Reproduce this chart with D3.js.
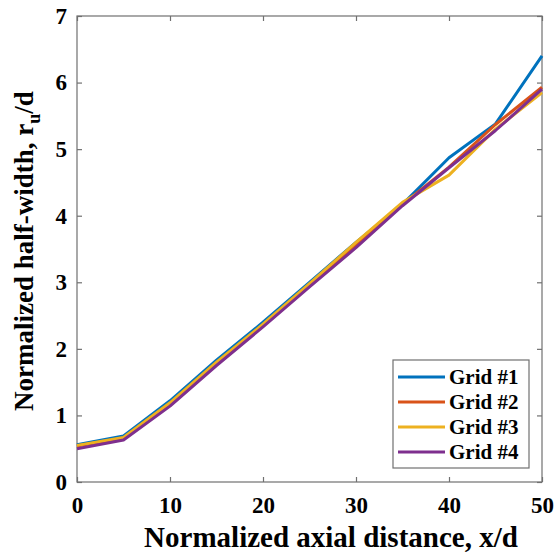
<!DOCTYPE html>
<html>
<head>
<meta charset="utf-8">
<script src="https://cdn.jsdelivr.net/npm/d3@7"></script>
<style>
  svg text, svg tspan { font-family: "Liberation Serif" !important; font-weight: bold !important; }
</style>
</head>
<body style="margin:0;background:#fff">
<svg id="chart" width="555" height="554"></svg>
<script>
// Axial positions x/d where the half-width was sampled
const xd = [0, 5, 10, 15, 20, 25, 30, 35, 40, 45, 50];

// Normalized half-width r_u/d for each mesh
const grid1 = [0.56, 0.69, 1.22, 1.83, 2.40, 3.00, 3.60, 4.17, 4.87, 5.38, 6.40];
const grid2 = [0.54, 0.66, 1.18, 1.79, 2.36, 2.96, 3.56, 4.17, 4.73, 5.37, 5.93];
const grid3 = [0.55, 0.67, 1.19, 1.80, 2.37, 2.98, 3.60, 4.20, 4.61, 5.30, 5.85];
const grid4 = [0.50, 0.63, 1.14, 1.75, 2.33, 2.93, 3.52, 4.15, 4.72, 5.28, 5.90];

const seriesNames = ["Grid #1", "Grid #2", "Grid #3", "Grid #4"];
const seriesColors = ["#0072BD", "#D95319", "#EDB120", "#7E2F8E"];
const xTicks = [0, 10, 20, 30, 40, 50];
const yTicks = [0, 1, 2, 3, 4, 5, 6, 7];

const series = [grid1, grid2, grid3, grid4].map((vals, i) => ({
  name: seriesNames[i],
  color: seriesColors[i],
  points: xd.map((x, j) => ({ x, y: vals[j] }))
}));

const svg = d3.select("#chart");
const plotL = 77, plotR = 542, plotT = 16, plotB = 482;
const axisColor = "#707070";

const x = d3.scaleLinear().domain([0, 50]).range([plotL, plotR]);
const y = d3.scaleLinear().domain([0, 7]).range([plotB, plotT]);

// Bold Times-style lettering for every label
function bold(sel, size) {
  return sel.attr("font-family", "Liberation Serif")
    .attr("font-weight", "bold")
    .style("font-family", "\"Liberation Serif\"", "important")
    .style("font-weight", "bold", "important")
    .style("font-size", size + "px")
    .attr("fill", "#000");
}

// Plot box
svg.append("rect")
  .attr("x", plotL).attr("y", plotT)
  .attr("width", plotR - plotL).attr("height", plotB - plotT)
  .attr("fill", "#fff").attr("stroke", axisColor).attr("stroke-width", 1.2);

// Inward ticks on all four sides
const tickLen = 5;
function styleAxis(g) {
  g.select(".domain").remove();
  g.attr("font-family", "Liberation Serif").attr("font-size", null);
  g.selectAll(".tick line").attr("stroke", axisColor).attr("stroke-width", 1.2);
}
const xBottom = svg.append("g").attr("transform", `translate(0,${plotB})`)
  .call(d3.axisBottom(x).tickValues(xTicks).tickSize(-tickLen).tickPadding(14).tickFormat(d3.format("d")));
styleAxis(xBottom);
bold(xBottom.selectAll(".tick text"), 23).attr("dy", "0.72em");

const xTop = svg.append("g").attr("transform", `translate(0,${plotT})`)
  .call(d3.axisTop(x).tickValues(xTicks).tickSize(-tickLen).tickFormat(""));
styleAxis(xTop);

const yLeft = svg.append("g").attr("transform", `translate(${plotL},0)`)
  .call(d3.axisLeft(y).tickValues(yTicks).tickSize(-tickLen).tickPadding(10).tickFormat(d3.format("d")));
styleAxis(yLeft);
bold(yLeft.selectAll(".tick text"), 23);

const yRight = svg.append("g").attr("transform", `translate(${plotR},0)`)
  .call(d3.axisRight(y).tickValues(yTicks).tickSize(-tickLen).tickFormat(""));
styleAxis(yRight);

// Curves
const line = d3.line().x(d => x(d.x)).y(d => y(d.y));
svg.append("g").selectAll("path")
  .data(series).join("path")
  .attr("d", d => line(d.points))
  .attr("fill", "none")
  .attr("stroke", d => d.color)
  .attr("stroke-width", 3)
  .attr("stroke-linejoin", "round");

// Axis titles
bold(svg.append("text"), 29)
  .attr("x", 331).attr("y", 547)
  .attr("text-anchor", "middle")
  .text("Normalized axial distance, x/d");

const yTitle = bold(svg.append("text"), 27)
  .attr("transform", `translate(33,251) rotate(-90)`)
  .attr("text-anchor", "middle");
yTitle.append("tspan").text("Normalized half-width, r");
yTitle.append("tspan").attr("dy", 7).style("font-size", "18px").text("u");
yTitle.append("tspan").attr("dy", -7).text("/d");

// Legend
const lg = svg.append("g").attr("transform", "translate(393,360)");
lg.append("rect").attr("width", 136).attr("height", 108)
  .attr("fill", "#fff").attr("stroke", axisColor).attr("stroke-width", 1.2);
const rows = lg.selectAll("g.row").data(series).join("g")
  .attr("class", "row")
  .attr("transform", (d, i) => `translate(0,${17 + i * 25})`);
rows.append("line")
  .attr("x1", 5).attr("x2", 52).attr("y1", 0).attr("y2", 0)
  .attr("stroke", d => d.color).attr("stroke-width", 3);
bold(rows.append("text"), 21)
  .attr("x", 56).attr("y", 0).attr("dy", "0.35em")
  .text(d => d.name);
</script>
</body>
</html>
